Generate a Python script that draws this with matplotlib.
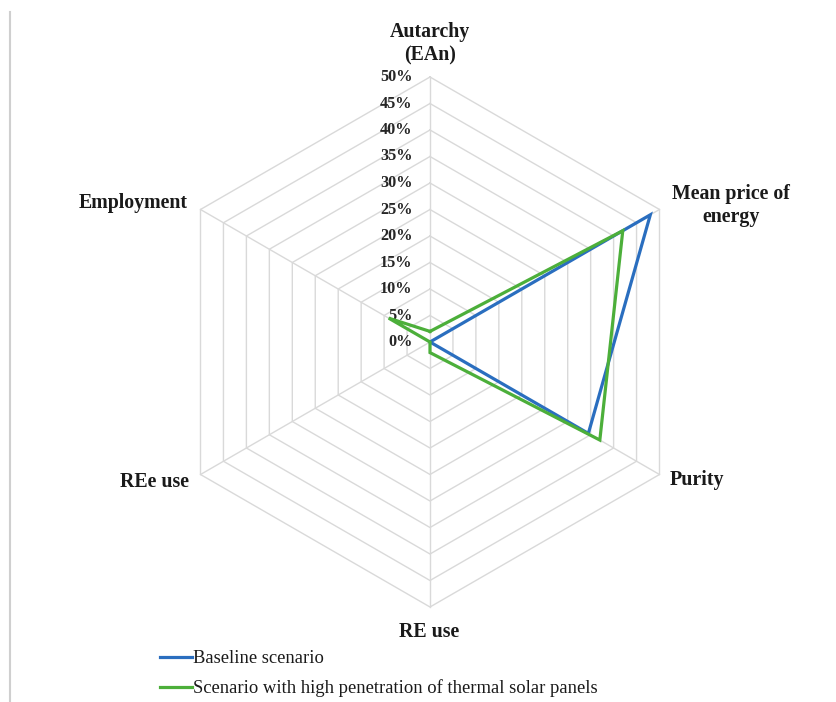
import numpy as np
import matplotlib
matplotlib.use("Agg")
import matplotlib.pyplot as plt
from matplotlib.lines import Line2D

categories = ["Autarchy\n(EAn)", "Mean price of\nenergy", "Purity", "RE use", "REe use", "Employment"]
baseline = [0.0, 0.48, 0.345, 0.0, 0.0, 0.0]
thermal = [0.02, 0.42, 0.37, 0.02, 0.0, 0.09]
ticks = [0.0, 0.05, 0.10, 0.15, 0.20, 0.25, 0.30, 0.35, 0.40, 0.45, 0.50]
tick_labels = ["0%", "5%", "10%", "15%", "20%", "25%", "30%", "35%", "40%", "45%", "50%"]
series_names = ["Baseline scenario", "Scenario with high penetration of thermal solar panels"]

W, H = 837, 702
cx, cy = 430, 342
scale = 530.0  # px per unit

fig = plt.figure(figsize=(W / 100, H / 100), dpi=100)
ax = fig.add_axes([0, 0, 1, 1])
ax.set_xlim(-cx / scale, (W - cx) / scale)
ax.set_ylim(-(H - cy) / scale, cy / scale)
ax.axis("off")

n = len(categories)
angles = np.arange(n) * 2 * np.pi / n  # clockwise from top


def xy(vals):
    v = np.asarray(vals, dtype=float)
    a = angles[: len(v)]
    return v * np.sin(a), v * np.cos(a)


grid_color = "#d9d9d9"
# rings
for t in ticks[1:]:
    x, y = xy([t] * n)
    ax.plot(np.append(x, x[0]), np.append(y, y[0]), color=grid_color, lw=1.0, zorder=1)
# spokes
for a in angles:
    ax.plot([0, 0.5 * np.sin(a)], [0, 0.5 * np.cos(a)], color=grid_color, lw=1.0, zorder=1)

# tick labels
serif = ["Liberation Serif", "DejaVu Serif"]
for t, lab in zip(ticks, tick_labels):
    ax.text(-0.033, t, lab, ha="right", va="center", fontsize=11.7,
            family=serif, fontweight="bold", color="#262626", zorder=3)

# series
colors = ["#2a6ebf", "#4caf3a"]
for vals, c, name in zip([baseline, thermal], colors, series_names):
    x, y = xy(vals)
    ax.plot(np.append(x, x[0]), np.append(y, y[0]), color=c, lw=2.3, zorder=4,
            label=name, solid_joinstyle="miter")

# category labels (offsets in pixels from centre)
label_pos = [(0, 298.5), (301, 137), (267, -138), (-1, -290), (-275, -140), (-297, 139)]
for lab, (dx, dy) in zip(categories, label_pos):
    ax.text(dx / scale, dy / scale, lab, ha="center", va="center", fontsize=14.3,
            family=serif, fontweight="bold", color="#1a1a1a", linespacing=1.2, zorder=3)

# legend
handles = [Line2D([], [], color=c, lw=2.3) for c in colors]
leg = fig.legend(handles, series_names, loc="upper left",
                 bbox_to_anchor=(160 / W, 1 - 650 / H), frameon=False,
                 prop={"family": serif, "size": 13.4}, handlelength=1.7,
                 handletextpad=0.08, labelspacing=0.66, borderaxespad=0, borderpad=0)
for txt in leg.get_texts():
    txt.set_color("#1a1a1a")

# left border line
fig.add_artist(Line2D([9.5 / W, 9.5 / W], [0, 1 - 12 / H], color="#cfcfcf", lw=1.5,
                      transform=fig.transFigure))

fig.savefig("out.png", dpi=100, facecolor="white")
